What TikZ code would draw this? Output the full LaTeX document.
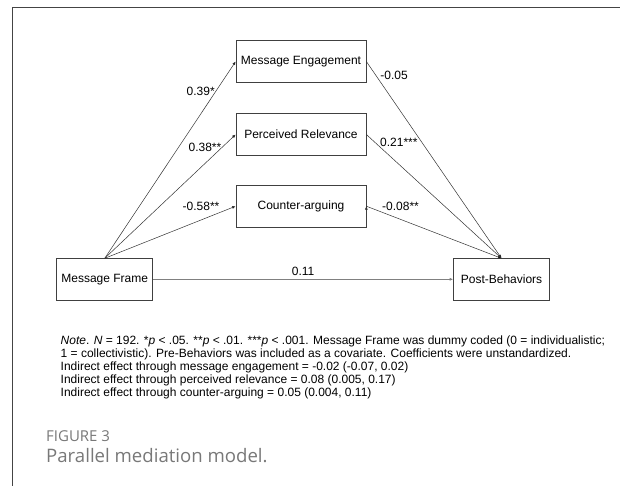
\documentclass[tikz,border=0pt]{standalone}
\usepackage{fontspec}
\setmainfont{Liberation Sans}
\newfontfamily\capfont{Open Sans}
\usetikzlibrary{arrows.meta,positioning}
\definecolor{framegray}{HTML}{444444}
\definecolor{boxgray}{HTML}{404040}
\definecolor{capgray}{HTML}{787878}
\tikzset{
    var/.style={
    rectangle,draw=boxgray,line width=0.7pt,minimum width=130pt,minimum height=41.6pt,inner sep=0pt,font=\fontsize{12}{14}\selectfont
    },
    endvar/.style={
    var,minimum width=96pt,minimum height=41.3pt
    },
    coef/.style={
    font=\fontsize{12}{14}\selectfont,inner sep=1pt
    },
    note/.style={
    font=\fontsize{12}{12.8}\selectfont,align=left,inner sep=0pt,anchor=north west
    },
}

\begin{document}
\begin{tikzpicture}[x=1pt, y=-1pt, >={Latex[length=3.5pt,width=3pt]}]
   \useasboundingbox (0,0) rectangle (620,486);
   % frame of the figure panel
   \draw[framegray, line width=1.3pt] (620,7.5) -- (12.3,7.5) -- (12.3,486);

   \node[var] (me) at (301,61.5) {Message Engagement};
   \node[var] (pr) at (301,134.5) {Perceived Relevance};
   \node[var] (ca) at (301,206.2) {Counter-arguing};
   \node[endvar] (mf) at (104.7,279.3) {Message Frame};
   \node[endvar] (pb) at (501.5,279.3) {Post-Behaviors};

  \path[->, draw=black!80, line width=0.5pt]
    (mf.north) edge node [coef, pos=0.85, anchor=east] {0.39*} (me.west)
          edge node [coef, pos=0.9, anchor=east] {0.38**} (pr.west)
          edge node [coef, pos=0.885, anchor=south east] {-0.58**} (ca.west)
    (me.east) edge node [coef, pos=0.072, anchor=west, xshift=3pt] {-0.05} (pb.north)
    (pr.east) edge node [coef, pos=0.06, anchor=west, xshift=4.5pt] {0.21***} (pb.north)
    (ca.east) edge node [coef, pos=0.108, anchor=south west] {-0.08**} (pb.north);
  \path[->, draw=gray, line width=1pt]
    (mf) edge node [coef, above, inner sep=3.5pt] {0.11} (pb);

   \node[note] (notes) at (60.5,336) {\textit{Note}. \textit{N} = 192. *\textit{p} < .05. **\textit{p} < .01. ***\textit{p} < .001. Message Frame was dummy coded (0 = individualistic;\\
   1 = collectivistic). Pre-Behaviors was included as a covariate. Coefficients were unstandardized.\\
   Indirect effect through message engagement = -0.02 (-0.07, 0.02)\\
   Indirect effect through perceived relevance = 0.08 (0.005, 0.17)\\
   Indirect effect through counter-arguing = 0.05 (0.004, 0.11)};

   \node[anchor=west, inner sep=0pt, text=capgray, font=\capfont\fontsize{15}{17}\selectfont] (figno) at (46,435.7) {FIGURE 3};
   \node[anchor=west, inner sep=0pt, text=capgray, font=\capfont\fontsize{18.6}{20}\selectfont] (figtitle) at (46,456) {Parallel mediation model.};
  \end{tikzpicture}
\end{document}
